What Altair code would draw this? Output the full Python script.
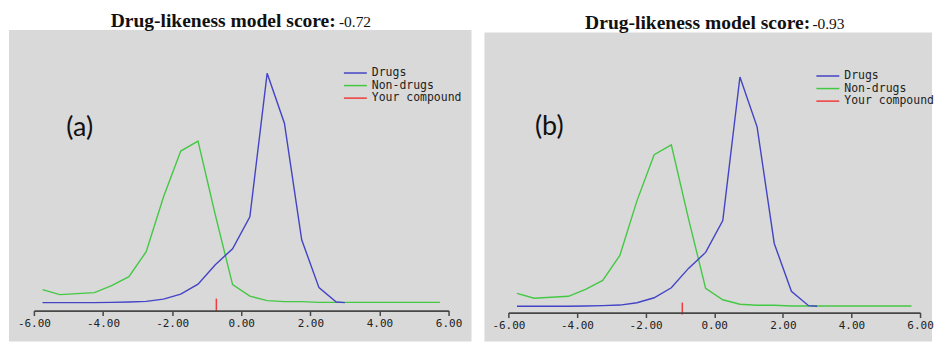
import altair as alt
import pandas as pd

# ---------------- data ----------------
bin_centers = [-5.75, -5.25, -4.75, -4.25, -3.75, -3.25, -2.75, -2.25, -1.75, -1.25,
               -0.75, -0.25, 0.25, 0.75, 1.25, 1.75, 2.25, 2.75, 3.25, 3.75,
               4.25, 4.75, 5.25, 5.75]
nondrug_freq = [13, 8, 9, 10, 17, 26, 51, 106, 152, 162,
                88, 18, 6.5, 2, 1, 1, 0.2, 0.2, 0.2, 0.2,
                0.2, 0.2, 0.2, 0.2]
drug_x = [-5.75, -5.25, -4.75, -4.25, -3.75, -3.25, -2.75, -2.25, -1.75, -1.25,
          -0.75, -0.25, 0.25, 0.75, 1.25, 1.75, 2.25, 2.75, 3.0]
drug_freq = [0, 0, 0, 0, 0.2, 0.6, 1.2, 3.5, 8.5, 18.5,
             38, 54, 86, 230, 180, 63, 15, 0.6, 0]
scores = [-0.72, -0.93]
panel_labels = ["(a)", "(b)"]
series_names = ["Drugs", "Non-drugs", "Your compound"]
series_colors = ["#4343c6", "#44c844", "#f03c3c"]
tick_values = [-6, -4, -2, 0, 2, 4, 6]
title_text = "Drug-likeness model score:"

nondrug_df = pd.DataFrame({"x": bin_centers, "freq": nondrug_freq, "series": series_names[1]})
drug_df = pd.DataFrame({"x": drug_x, "freq": drug_freq, "series": series_names[0]})

# ---------------- layout (styles / positions) ----------------
H = 342
GRAY = "#d9d9d9"
LEGEND_LINE = "M-2,0L2,0"   # horizontal stroke used as legend symbol
geom = [
    dict(w=464, top=29.5, xrange=[25, 441], yrange=[303, 73], axis_off=-31,
         mk=(299, 312), leg=(341, 66.2), title=(102, 26.5), num=(331, 26.5), lab=(71, 128)),
    dict(w=449, top=32, xrange=[24, 437], yrange=[306.7, 76.7], axis_off=-29,
         mk=(303, 315), leg=(338, 69.2), title=(101, 28.3), num=(329, 28.3), lab=(65, 127)),
]


def make_panel(i, g):
    score_df = pd.DataFrame({"score": [scores[i]], "series": [series_names[2]],
                             "label": [panel_labels[i]]})
    xs = alt.Scale(domain=[-6, 6], range=g["xrange"])
    ys = alt.Scale(domain=[0, 230], range=g["yrange"])
    cscale = alt.Scale(domain=series_names, range=series_colors)
    legend = alt.Legend(title=None, orient="none", legendX=g["leg"][0], legendY=g["leg"][1],
                        symbolType=LEGEND_LINE, symbolSize=132, symbolStrokeWidth=1.5,
                        labelFont="DejaVu Sans Mono", labelFontSize=11.5, labelColor="#222222",
                        labelOffset=10, rowPadding=0.6, padding=0, offset=0)
    xaxis = alt.Axis(values=tick_values, format=".2f", title=None, offset=g["axis_off"],
                     grid=False, domainColor="#474747", domainWidth=1.8,
                     tickColor="#474747", tickWidth=1.5, tickSize=5, zindex=2,
                     labelFlush=False, labelOverlap=False,
                     labelExpr="replace(datum.label, '\u2212', '-')",
                     labelFont="DejaVu Sans Mono", labelFontSize=11, labelColor="#222222",
                     labelPadding=2)
    color = alt.Color("series:N", scale=cscale, legend=legend)

    bg = alt.Chart(score_df).mark_rect(color=GRAY).encode(
        x=alt.value(0), x2=alt.value(g["w"]), y=alt.value(g["top"]), y2=alt.value(H))
    green = alt.Chart(nondrug_df).mark_line(strokeWidth=1.4).encode(
        x=alt.X("x:Q", scale=xs, axis=xaxis),
        y=alt.Y("freq:Q", scale=ys, axis=None),
        color=color)
    blue = alt.Chart(drug_df).mark_line(strokeWidth=1.4).encode(
        x=alt.X("x:Q", scale=xs, axis=xaxis),
        y=alt.Y("freq:Q", scale=ys, axis=None),
        color=color)
    marker = alt.Chart(score_df).mark_rule(strokeWidth=1.5).encode(
        x=alt.X("score:Q", scale=xs, axis=xaxis),
        y=alt.value(g["mk"][0]), y2=alt.value(g["mk"][1]),
        color=color)
    t_bold = alt.Chart(score_df).mark_text(
        font="Liberation Serif", fontSize=19.6, fontWeight="bold", align="left",
        baseline="alphabetic", color="#111111").encode(
        x=alt.value(g["title"][0]), y=alt.value(g["title"][1]), text=alt.value(title_text))
    t_num = alt.Chart(score_df).transform_calculate(
        score_txt="replace(format(datum.score, '.2f'), '\u2212', '-')"
    ).mark_text(
        font="Liberation Serif", fontSize=15.5, align="left",
        baseline="alphabetic", color="#111111").encode(
        x=alt.value(g["num"][0]), y=alt.value(g["num"][1]),
        text=alt.Text("score_txt:N"))
    lab = alt.Chart(score_df).mark_text(
        font="Lato", fontSize=27, align="center", baseline="middle",
        color="#111111").encode(
        x=alt.value(g["lab"][0]), y=alt.value(g["lab"][1]), text="label:N")
    return alt.layer(bg, green, blue, marker, t_bold, t_num, lab).properties(
        width=g["w"], height=H)


pa = make_panel(0, geom[0])
pb = make_panel(1, geom[1])

chart = alt.hconcat(pa, pb, spacing=13, bounds="flush").resolve_scale(
    x="independent", y="independent", color="independent"
).resolve_legend(color="independent").properties(
    padding={"left": 9, "top": 0, "right": 0, "bottom": 0}, background="white"
).configure_view(strokeWidth=0)

chart.save("out.html", embed_options={"renderer": "svg", "actions": False})
